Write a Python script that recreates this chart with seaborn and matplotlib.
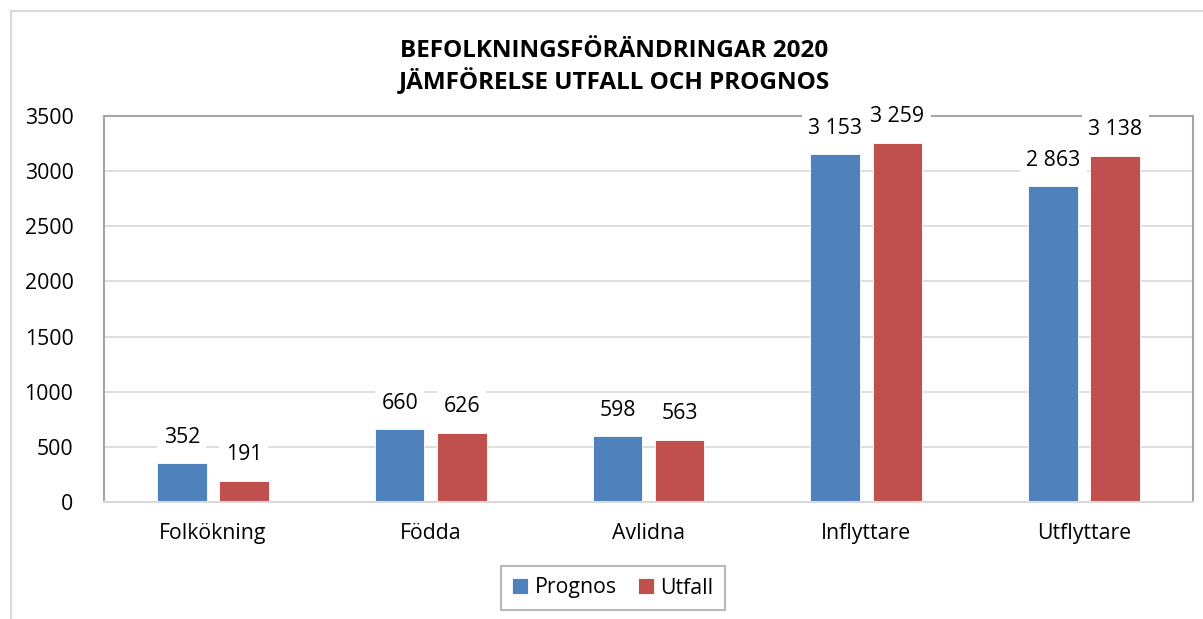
import matplotlib
matplotlib.use("Agg")
import matplotlib.pyplot as plt
import seaborn as sns
import pandas as pd
from matplotlib.patches import Rectangle

categories = ["Folkökning", "Födda", "Avlidna", "Inflyttare", "Utflyttare"]
prognos = [352, 660, 598, 3153, 2863]
utfall = [191, 626, 563, 3259, 3138]
series_names = ["Prognos", "Utfall"]
colors = ["#4f81bd", "#c0504d"]
title = "BEFOLKNINGSFÖRÄNDRINGAR 2020\nJÄMFÖRELSE UTFALL OCH PROGNOS"
yticks = [0, 500, 1000, 1500, 2000, 2500, 3000, 3500]

df = pd.DataFrame({
    "Kategori": categories * 2,
    "Serie": [series_names[0]] * len(categories) + [series_names[1]] * len(categories),
    "Värde": prognos + utfall,
})

sns.set_theme(style="white")
plt.rcParams["font.family"] = ["Open Sans", "DejaVu Sans"]
plt.rcParams["text.color"] = "black"

FS = 15.3
W, H = 1203, 619
fig = plt.figure(figsize=(W / 100, H / 100), dpi=100)
ax = fig.add_axes([104 / W, 1 - 502 / H, (1193 - 104) / W, (502 - 116) / H])

sns.barplot(data=df, x="Kategori", y="Värde", hue="Serie", palette=colors,
            width=0.57, gap=0.2, ax=ax, legend=True, saturation=1)

for p in ax.patches:
    p.set_edgecolor("white")
    p.set_linewidth(0.6)

ax.set_ylim(0, 3500)
ax.set_xlim(-0.5, len(categories) - 0.5)
ax.set_yticks(yticks)
ax.set_yticklabels([str(v) for v in yticks], fontsize=FS, color="black")
ax.tick_params(axis="x", labelsize=FS, pad=15, length=0, labelcolor="black")
ax.tick_params(axis="y", pad=22, length=0, labelcolor="black")
ax.set_xlabel("")
ax.set_ylabel("")
ax.yaxis.grid(True, color="#d9d9d9", linewidth=1.2)
ax.set_axisbelow(True)
for side in ["left", "top", "right"]:
    ax.spines[side].set_color("#a6a6a6")
    ax.spines[side].set_linewidth(1.5)
ax.spines["bottom"].set_color("#d9d9d9")
ax.spines["bottom"].set_linewidth(1.5)

def fmt(v):
    return f"{v:,}".replace(",", " ")

for cont in ax.containers:
    for rect in cont:
        h = rect.get_height()
        ax.annotate(fmt(int(round(h))), (rect.get_x() + rect.get_width() / 2, h),
                    xytext=(0, 26), textcoords="offset pixels",
                    ha="center", va="center", fontsize=FS, color="black",
                    bbox=dict(boxstyle="square,pad=0.3", fc="white", ec="none"),
                    zorder=5, annotation_clip=False)

fig.text(614 / W, 1 - 67 / H, title, ha="center", va="center", fontsize=17.5,
         fontweight="bold", linespacing=1.3, color="black")

leg = ax.legend(loc="center", bbox_to_anchor=(613 / W, 1 - 588 / H),
                bbox_transform=fig.transFigure, ncol=2, frameon=True,
                fontsize=FS, handlelength=0.75, handleheight=0.75,
                handletextpad=0.3, columnspacing=1.0, borderpad=0.55,
                fancybox=False, edgecolor="#a6a6a6")
leg.get_frame().set_linewidth(1.5)
for t in leg.get_texts():
    t.set_color("black")

fig.patches.append(Rectangle((11 / W, -0.1), 1.2, 1 - 11 / H + 0.1,
                             transform=fig.transFigure, fill=False,
                             edgecolor="#d9d9d9", linewidth=1.5))

fig.savefig("out.png", dpi=100)
